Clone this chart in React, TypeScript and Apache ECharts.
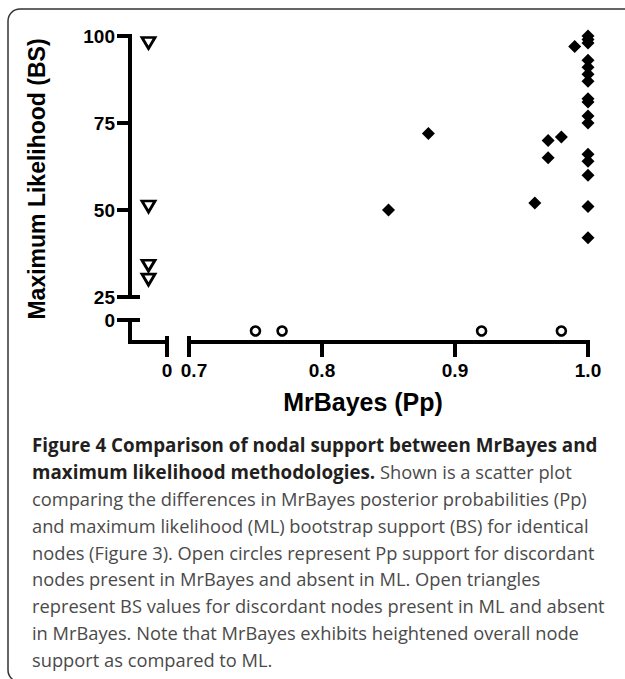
import React, { useEffect, useRef } from "react";
import * as echarts from "echarts";

// Concordant nodes: MrBayes posterior probability (Pp) vs ML bootstrap (BS)
const concordantPp = [
  1.0, 1.0, 1.0, 1.0, 1.0, 1.0, 1.0, 1.0, 1.0, 1.0, 1.0, 1.0, 1.0, 1.0, 1.0, 1.0,
  0.99, 0.98, 0.97, 0.97, 0.96, 0.88, 0.85,
];
const concordantBs = [
  100, 99, 98, 93, 91, 89, 87, 82, 81, 77, 75, 66, 64, 60, 51, 42,
  97, 71, 70, 65, 52, 72, 50,
];
// Nodes present in ML only (open triangles): BS values
const mlOnlyBs = [98, 51, 34, 30];
const mlOnlySlot = -0.5; // placed on the broken "0" segment of the Pp axis
// Nodes present in MrBayes only (open circles): Pp values
const mrBayesOnlyPp = [0.75, 0.77, 0.92, 0.98];
const mrBayesOnlySlot = -5; // placed on the broken "0" segment of the BS axis

const yTicks = [25, 50, 75, 100];
const xTicks = [0.7, 0.8, 0.9, 1.0];

const captionLines: { bold: string; regular: string }[] = [
  { bold: "Figure 4 Comparison of nodal support between MrBayes and", regular: "" },
  { bold: "maximum likelihood methodologies.", regular: " Shown is a scatter plot" },
  { bold: "", regular: "comparing the differences in MrBayes posterior probabilities (Pp)" },
  { bold: "", regular: "and maximum likelihood (ML) bootstrap support (BS) for identical" },
  { bold: "", regular: "nodes (Figure 3). Open circles represent Pp support for discordant" },
  { bold: "", regular: "nodes present in MrBayes and absent in ML. Open triangles" },
  { bold: "", regular: "represent BS values for discordant nodes present in ML and absent" },
  { bold: "", regular: "in MrBayes. Note that MrBayes exhibits heightened overall node" },
  { bold: "", regular: "support as compared to ML." },
];

const FONT = "'Liberation Sans', Arial, Helvetica, sans-serif";
const CAP_FONT = "'Open Sans', 'Noto Sans', sans-serif";
const AX = { color: "#000", width: 4, cap: "square" as const };
const LBL = { color: "#000", fontSize: 19, fontWeight: "bold" as const, fontFamily: FONT };

export default function App() {
  const ref = useRef<HTMLDivElement>(null);
  useEffect(() => {
    if (!ref.current) return;
    const chart = echarts.init(ref.current, null, { renderer: "svg" });
    const capGap = 26.75;
    const capTop = 445;
    const captionGraphics = captionLines.map((ln, i) => {
      const parts: string[] = [];
      if (ln.bold) parts.push(`{b|${ln.bold}}`);
      if (ln.regular) parts.push(`{r|${ln.regular}}`);
      return {
        type: "text",
        x: 32,
        y: capTop + i * capGap,
        silent: true,
        style: {
          text: parts.join(""),
          align: "left",
          textAlign: "left",
          verticalAlign: "middle",
          textVerticalAlign: "middle",
          rich: {
            b: { fontFamily: CAP_FONT, fontSize: 18.8, fontWeight: "bold", fill: "#231f20" },
            r: { fontFamily: CAP_FONT, fontSize: 18.3, fontWeight: "normal", fill: "#4a4a4a" },
          },
        },
      };
    });

    const hidden = { show: false };
    chart.setOption({
      animation: false,
      grid: [
        { left: 130, top: 36, width: 37, height: 261 },
        { left: 189, top: 36, width: 399, height: 261 },
        { left: 130, top: 320, width: 37, height: 22 },
        { left: 189, top: 320, width: 399, height: 22 },
      ],
      xAxis: [
        { gridIndex: 0, type: "value", min: -1, max: 0, show: false },
        { gridIndex: 1, type: "value", min: 0.7, max: 1.0, show: false },
        {
          gridIndex: 2, type: "value", min: -1, max: 0, interval: 1, position: "bottom",
          axisLine: { show: true, onZero: false, lineStyle: AX },
          axisTick: { show: true, length: 13, lineStyle: AX, customValues: [0] },
          axisLabel: { ...LBL, margin: 19, customValues: [0], formatter: (v: number) => String(v) },
          splitLine: hidden,
        },
        {
          gridIndex: 3, type: "value", min: 0.7, max: 1.0, interval: 0.1, position: "bottom",
          axisLine: { show: true, onZero: false, lineStyle: AX },
          axisTick: { show: true, length: 13, lineStyle: AX, customValues: xTicks },
          axisLabel: {
            ...LBL, margin: 19, customValues: xTicks,
            formatter: (v: number) => (Math.abs(v - 0.7) < 1e-6 ? `{s|${v.toFixed(1)}}` : v.toFixed(1)),
            rich: { s: { ...LBL, padding: [0, 0, 0, 10] } },
          },
          splitLine: hidden,
        },
        {
          gridIndex: 2, type: "value", min: -1, max: 0, position: "bottom",
          axisLine: { show: false, onZero: false },
          axisTick: { show: true, inside: true, length: 4, lineStyle: AX, customValues: [0] },
          axisLabel: hidden, splitLine: hidden,
        },
        {
          gridIndex: 3, type: "value", min: 0.7, max: 1.0, position: "bottom",
          axisLine: { show: false, onZero: false },
          axisTick: { show: true, inside: true, length: 4, lineStyle: AX, customValues: [0.7] },
          axisLabel: hidden, splitLine: hidden,
        },
      ],
      yAxis: [
        {
          gridIndex: 0, type: "value", min: 25, max: 100, interval: 25, position: "left",
          axisLine: { show: true, onZero: false, lineStyle: AX },
          axisTick: { show: true, length: 11, lineStyle: AX, customValues: yTicks },
          axisLabel: { ...LBL, margin: 15, customValues: yTicks },
          splitLine: hidden,
        },
        { gridIndex: 1, type: "value", min: 25, max: 100, show: false },
        {
          gridIndex: 2, type: "value", min: -10, max: 0, interval: 10, position: "left",
          axisLine: { show: true, onZero: false, lineStyle: AX },
          axisTick: { show: true, length: 11, lineStyle: AX, customValues: [0] },
          axisLabel: { ...LBL, margin: 15, customValues: [0] },
          splitLine: hidden,
        },
        { gridIndex: 3, type: "value", min: -10, max: 0, show: false },
        {
          gridIndex: 0, type: "value", min: 25, max: 100, position: "left",
          axisLine: { show: false, onZero: false },
          axisTick: { show: true, inside: true, length: 8, lineStyle: AX, customValues: [25] },
          axisLabel: hidden, splitLine: hidden,
        },
        {
          gridIndex: 2, type: "value", min: -10, max: 0, position: "left",
          axisLine: { show: false, onZero: false },
          axisTick: { show: true, inside: true, length: 8, lineStyle: AX, customValues: [0] },
          axisLabel: hidden, splitLine: hidden,
        },
      ],
      series: [
        {
          type: "scatter", xAxisIndex: 0, yAxisIndex: 0,
          data: mlOnlyBs.map((b) => [mlOnlySlot, b]),
          symbol: "triangle", symbolRotate: 180, symbolSize: [13, 11],
          itemStyle: { color: "#fff", borderColor: "#000", borderWidth: 2.8, opacity: 1 },
        },
        {
          type: "scatter", xAxisIndex: 1, yAxisIndex: 1,
          data: concordantPp.map((p, i) => [p, concordantBs[i]]),
          symbol: "diamond", symbolSize: [13, 13],
          itemStyle: { color: "#000", opacity: 1 },
        },
        {
          type: "scatter", xAxisIndex: 3, yAxisIndex: 3,
          data: mrBayesOnlyPp.map((p) => [p, mrBayesOnlySlot]),
          symbol: "circle", symbolSize: 9,
          itemStyle: { color: "#fff", borderColor: "#000", borderWidth: 2.6, opacity: 1 },
        },
      ],
      graphic: [
        {
          type: "rect", silent: true, z: -10,
          shape: { x: 8, y: 9, width: 700, height: 673, r: 12 },
          style: { fill: "none", stroke: "#333", lineWidth: 1.5 },
        },
        {
          type: "text", x: 37, y: 179, rotation: Math.PI / 2, silent: true,
          style: {
            text: "Maximum Likelihood (BS)", fill: "#000",
            font: `bold 23px ${FONT}`,
            align: "center", textAlign: "center", verticalAlign: "middle", textVerticalAlign: "middle",
          },
        },
        {
          type: "text", x: 363, y: 402, silent: true,
          style: {
            text: "MrBayes (Pp)", fill: "#000",
            font: `bold 25px ${FONT}`,
            align: "center", textAlign: "center", verticalAlign: "middle", textVerticalAlign: "middle",
          },
        },
        ...captionGraphics,
      ],
    });
    return () => chart.dispose();
  }, []);
  return (
    <div
      ref={ref}
      style={{ position: "fixed", left: 0, top: 0, width: 625, height: 679, background: "#fff" }}
    />
  );
}
